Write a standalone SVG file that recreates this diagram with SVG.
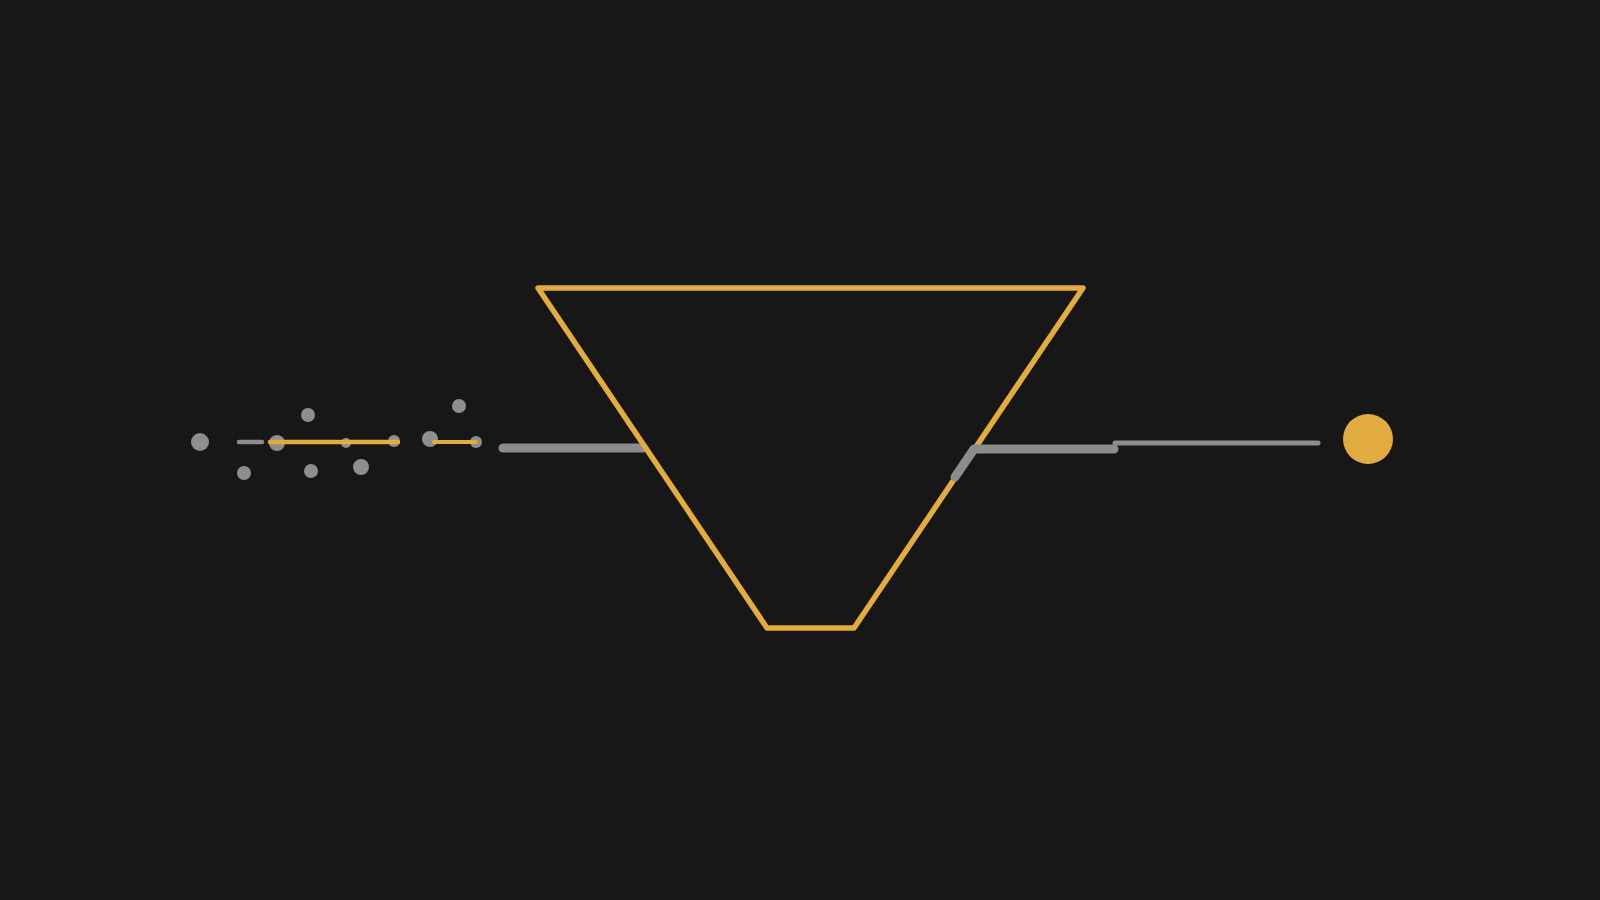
<svg xmlns="http://www.w3.org/2000/svg" width="1600" height="900" viewBox="0 0 1600 900">
<style>
.gold{stroke:#E3AC3C;fill:none;stroke-linecap:round;stroke-linejoin:round}
.gray{stroke:#8C8C8C;fill:none;stroke-linecap:round;stroke-linejoin:round}
.dot{fill:#8E8E8E}
</style>
<rect x="0" y="0" width="1600" height="900" fill="#161716"/>
<g id="input-dots">
<circle class="dot" cx="200" cy="442" r="9"/>
<circle class="dot" cx="277" cy="443" r="8"/>
<circle class="dot" cx="346" cy="443" r="5"/>
<circle class="dot" cx="394" cy="441" r="6"/>
<circle class="dot" cx="308" cy="415" r="7"/>
<circle class="dot" cx="244" cy="473" r="7"/>
<circle class="dot" cx="311" cy="471" r="7"/>
<circle class="dot" cx="361" cy="467" r="8"/>
<circle class="dot" cx="430" cy="439" r="8"/>
<circle class="dot" cx="459" cy="406" r="7"/>
<circle class="dot" cx="476" cy="442" r="6"/>
</g>
<g id="connectors">
<line class="gray" x1="239" y1="442" x2="262" y2="442" stroke-width="4.5"/>
<line class="gold" x1="270" y1="442" x2="398" y2="442" stroke-width="4.5"/>
<line class="gold" x1="434" y1="442" x2="476" y2="442" stroke-width="4"/>
<line class="gray" x1="503" y1="448" x2="643" y2="448" stroke-width="9"/>
<line class="gray" x1="1115" y1="443" x2="1318" y2="443" stroke-width="5"/>
</g>
<g id="funnel">
<polygon class="gold" points="538,288 1083,288 854,628 767,628" stroke-width="5.5"/>
</g>
<g id="funnel-exit">
<polyline class="gray" points="955,477 974,449 1114,449" stroke-width="9"/>
</g>
<g id="output">
<circle cx="1368" cy="439" r="25" fill="#E2AB3F"/>
</g>
</svg>
